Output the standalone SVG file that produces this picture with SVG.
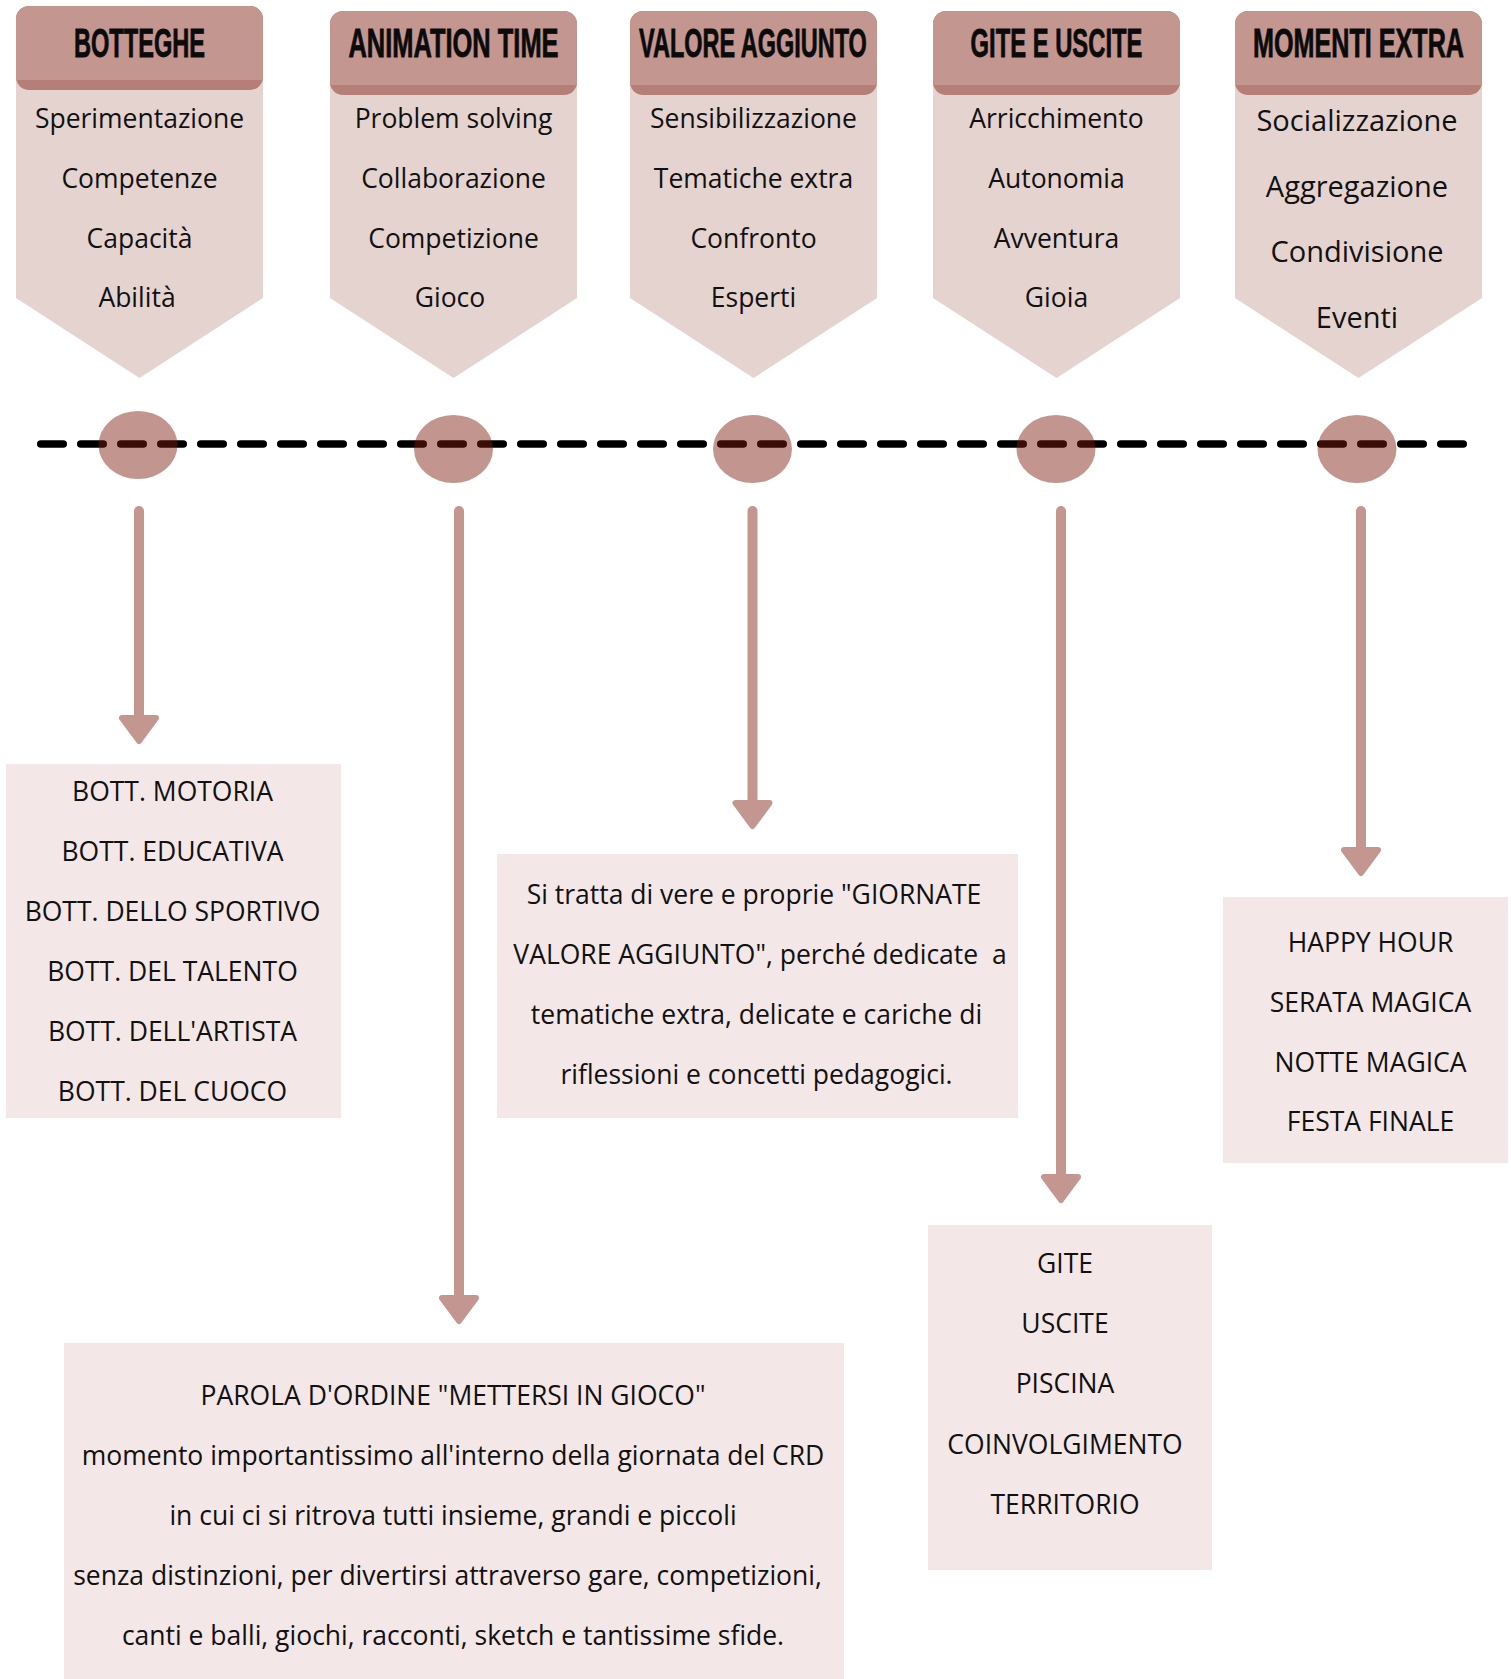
<svg xmlns="http://www.w3.org/2000/svg" width="1511" height="1679" viewBox="0 0 1511 1679">
<style>
.body{fill:#E5D3D0}
.hdk{fill:#B57F77}
.hlt{fill:#C39690}
.h{font-family:"Liberation Sans",Arial,sans-serif;font-weight:bold;font-size:40px;fill:#0b0b0b;stroke:#0b0b0b;stroke-width:0.8;text-anchor:middle}
.t{font-family:"Open Sans","Noto Sans",sans-serif;font-size:26.5px;fill:#111;text-anchor:middle}
.t5{font-family:"Open Sans","Noto Sans",sans-serif;font-size:29px;fill:#111;text-anchor:middle}
.box{fill:#F3E7E7}
.dot{fill:#7C1E0D;fill-opacity:0.467}
.tl{stroke:#000;stroke-width:7.5;stroke-linecap:round;stroke-dasharray:22.5 17.5;fill:none}
.ar{stroke:#C39690;stroke-width:10;stroke-linecap:round;fill:none}
.ah{fill:#C39690;stroke:#C39690;stroke-width:6;stroke-linejoin:round}
</style>
<rect width="1511" height="1679" fill="#fff"/>

<g id="col-botteghe">
<path class="body" d="M16,78 H263 V298 L139.5,378 L16,298 Z"/>
<rect class="hdk" x="16" y="6" width="247" height="84" rx="13"/>
<path class="hlt" d="M16,80 V19 A13,13 0 0 1 29,6 H250 A13,13 0 0 1 263,19 V80 Z"/>
<text class="h" transform="translate(139.5,56.5) scale(0.59,1)">BOTTEGHE</text>
<text class="t" x="139.5" y="128">Sperimentazione</text>
<text class="t" x="139.5" y="188">Competenze</text>
<text class="t" x="139.5" y="247.5">Capacità</text>
<text class="t" x="137" y="307">Abilità</text>
</g>

<g id="col-animation">
<path class="body" d="M330,83 H577 V298 L453.5,378 L330,298 Z"/>
<rect class="hdk" x="330" y="11" width="247" height="84" rx="13"/>
<path class="hlt" d="M330,85 V24 A13,13 0 0 1 343,11 H564 A13,13 0 0 1 577,24 V85 Z"/>
<text class="h" transform="translate(453.5,56.5) scale(0.636,1)">ANIMATION TIME</text>
<text class="t" x="453.5" y="128">Problem solving</text>
<text class="t" x="453.5" y="188">Collaborazione</text>
<text class="t" x="453.5" y="247.5">Competizione</text>
<text class="t" x="450" y="307">Gioco</text>
</g>

<g id="col-valore">
<path class="body" d="M630,83 H877 V298 L753.5,378 L630,298 Z"/>
<rect class="hdk" x="630" y="11" width="247" height="84" rx="13"/>
<path class="hlt" d="M630,85 V24 A13,13 0 0 1 643,11 H864 A13,13 0 0 1 877,24 V85 Z"/>
<text class="h" transform="translate(753,56.5) scale(0.587,1)">VALORE AGGIUNTO</text>
<text class="t" x="753.5" y="128">Sensibilizzazione</text>
<text class="t" x="753.5" y="188">Tematiche extra</text>
<text class="t" x="753.5" y="247.5">Confronto</text>
<text class="t" x="753.5" y="307">Esperti</text>
</g>

<g id="col-gite">
<path class="body" d="M933,83 H1180 V298 L1056.5,378 L933,298 Z"/>
<rect class="hdk" x="933" y="11" width="247" height="84" rx="13"/>
<path class="hlt" d="M933,85 V24 A13,13 0 0 1 946,11 H1167 A13,13 0 0 1 1180,24 V85 Z"/>
<text class="h" transform="translate(1056.5,56.5) scale(0.595,1)">GITE E USCITE</text>
<text class="t" x="1056.5" y="128">Arricchimento</text>
<text class="t" x="1056.5" y="188">Autonomia</text>
<text class="t" x="1056.5" y="247.5">Avventura</text>
<text class="t" x="1056.5" y="307">Gioia</text>
</g>

<g id="col-momenti">
<path class="body" d="M1235,83 H1482 V298 L1358.5,378 L1235,298 Z"/>
<rect class="hdk" x="1235" y="11" width="247" height="84" rx="13"/>
<path class="hlt" d="M1235,85 V24 A13,13 0 0 1 1248,11 H1469 A13,13 0 0 1 1482,24 V85 Z"/>
<text class="h" transform="translate(1358.5,56.5) scale(0.629,1)">MOMENTI EXTRA</text>
<text class="t5" x="1357" y="130.5">Socializzazione</text>
<text class="t5" x="1357" y="196.5">Aggregazione</text>
<text class="t5" x="1357" y="262">Condivisione</text>
<text class="t5" x="1357" y="328">Eventi</text>
</g>

<g id="connectors">
<line class="tl" x1="40.75" y1="444" x2="1470" y2="444"/>
<line class="ar" x1="139" y1="511" x2="139" y2="720"/>
<polygon class="ah" points="122,718 156,718 139,741"/>
<line class="ar" x1="459" y1="511" x2="459" y2="1300"/>
<polygon class="ah" points="442,1298 476,1298 459,1321"/>
<line class="ar" x1="752.5" y1="511" x2="752.5" y2="805"/>
<polygon class="ah" points="735.5,803 769.5,803 752.5,826"/>
<line class="ar" x1="1061" y1="511" x2="1061" y2="1179"/>
<polygon class="ah" points="1044,1177 1078,1177 1061,1200"/>
<line class="ar" x1="1361" y1="511" x2="1361" y2="852"/>
<polygon class="ah" points="1344,850 1378,850 1361,873"/>
</g>

<g id="timeline-dots">
<ellipse class="dot" cx="138" cy="445" rx="39.5" ry="34"/>
<ellipse class="dot" cx="453.5" cy="449" rx="39.5" ry="34"/>
<ellipse class="dot" cx="752.5" cy="449" rx="39.5" ry="34"/>
<ellipse class="dot" cx="1056" cy="449" rx="39.5" ry="34"/>
<ellipse class="dot" cx="1357" cy="449" rx="39.5" ry="34"/>
</g>

<g id="box-botteghe">
<rect class="box" x="6" y="764" width="335" height="354"/>
<text class="t" x="172.5" y="800.5">BOTT. MOTORIA</text>
<text class="t" x="172.5" y="860.5">BOTT. EDUCATIVA</text>
<text class="t" x="172.5" y="920.5">BOTT. DELLO SPORTIVO</text>
<text class="t" x="172.5" y="981">BOTT. DEL TALENTO</text>
<text class="t" x="172.5" y="1041">BOTT. DELL'ARTISTA</text>
<text class="t" x="172.5" y="1101">BOTT. DEL CUOCO</text>
</g>

<g id="box-animation">
<rect class="box" x="64" y="1343" width="780" height="336"/>
<text class="t" x="453" y="1404.5">PAROLA D'ORDINE "METTERSI IN GIOCO"</text>
<text class="t" x="453" y="1464.5">momento importantissimo all'interno della giornata del CRD</text>
<text class="t" x="453" y="1524.5">in cui ci si ritrova tutti insieme, grandi e piccoli</text>
<text class="t" x="447.5" y="1584.5">senza distinzioni, per divertirsi attraverso gare, competizioni,</text>
<text class="t" x="453" y="1644.5">canti e balli, giochi, racconti, sketch e tantissime sfide.</text>
</g>

<g id="box-valore">
<rect class="box" x="497" y="854" width="521" height="264"/>
<text class="t" x="754" y="903.5">Si tratta di vere e proprie "GIORNATE</text>
<text class="t" x="760" y="963.5" xml:space="preserve">VALORE AGGIUNTO", perché dedicate  a</text>
<text class="t" x="756.5" y="1023.5">tematiche extra, delicate e cariche di</text>
<text class="t" x="756.5" y="1083.5">riflessioni e concetti pedagogici.</text>
</g>

<g id="box-gite">
<rect class="box" x="928" y="1225" width="284" height="345"/>
<text class="t" x="1065" y="1273">GITE</text>
<text class="t" x="1065" y="1333">USCITE</text>
<text class="t" x="1065" y="1393">PISCINA</text>
<text class="t" x="1065" y="1453.5">COINVOLGIMENTO</text>
<text class="t" x="1065" y="1513.5">TERRITORIO</text>
</g>

<g id="box-momenti">
<rect class="box" x="1223" y="897" width="285" height="266"/>
<text class="t" x="1370.5" y="951.5">HAPPY HOUR</text>
<text class="t" x="1370.5" y="1011.5">SERATA MAGICA</text>
<text class="t" x="1370.5" y="1071.5">NOTTE MAGICA</text>
<text class="t" x="1370.5" y="1131">FESTA FINALE</text>
</g>
</svg>
